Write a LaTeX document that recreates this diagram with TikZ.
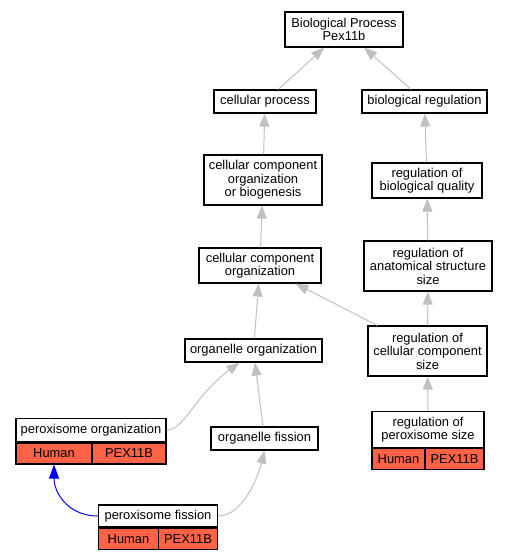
\documentclass[tikz,border=0pt]{standalone}
\usepackage{fontspec}
\setmainfont{Liberation Sans}
\usepackage{xcolor}
\usetikzlibrary{arrows.meta}
\definecolor{edgegray}{RGB}{192,192,192}
\definecolor{tomato}{RGB}{255,99,71}

\begin{document}
\begin{tikzpicture}[x=1pt, y=-1pt,
    term/.style={draw, line width=1.2pt, fill=white, inner sep=0pt, align=center,
      font=\fontsize{12.9}{13.4}\selectfont},
    gene/.style={term, fill=tomato, minimum height=21},
    edge/.style={draw=edgegray, line width=1pt,
      -{Triangle[length=13pt, width=10pt, fill=edgegray]}},
    blueedge/.style={draw=blue, line width=1pt,
      -{Triangle[length=14pt, width=10pt, fill=blue]}}]
    \useasboundingbox (0,0) rectangle (508,560);

    \node[term, minimum width=118, minimum height=35] (bp) at (344, 29.5)
      {Biological Process\\Pex11b};
    \node[term, minimum width=102, minimum height=23] (cp) at (265, 101.5)
      {cellular process};
    \node[term, minimum width=125, minimum height=23] (br) at (424.5, 101.5)
      {biological regulation};
    \node[term, minimum width=118, minimum height=50] (ccob) at (263, 180)
      {cellular component\\organization\\or biogenesis};
    \node[term, minimum width=110, minimum height=35] (rbq) at (427, 180.5)
      {regulation of\\biological quality};
    \node[term, minimum width=122, minimum height=35] (cco) at (260, 265.5)
      {cellular component\\organization};
    \node[term, minimum width=128, minimum height=50] (ras) at (428, 266)
      {regulation of\\anatomical structure\\size};
    \node[term, minimum width=137, minimum height=23] (oo) at (253.5, 350.5)
      {organelle organization};
    \node[term, minimum width=119, minimum height=50] (rccs) at (427.5, 351)
      {regulation of\\cellular component\\size};
    \node[term, minimum width=107, minimum height=23] (of) at (264.5, 438.5)
      {organelle fission};

    \node[term, minimum width=150, minimum height=23.4] (po) at (91, 430)
      {peroxisome organization};
    \node[gene, anchor=north west, minimum width=76] (poh) at (po.south west)
      {Human};
    \node[gene, anchor=north east, minimum width=74] (pog) at (po.south east)
      {PEX11B};

    \node[term, minimum width=112, minimum height=35.6] (rps) at (428, 429.5)
      {regulation of\\peroxisome size};
    \node[gene, anchor=north west, minimum width=53] (rpsh) at (rps.south west)
      {Human};
    \node[gene, anchor=north east, minimum width=59] (rpsg) at (rps.south east)
      {PEX11B};

    \node[term, minimum width=119, minimum height=22] (pf) at (158, 516)
      {peroxisome fission};
    \node[gene, anchor=north west, minimum width=60] (pfh) at (pf.south west)
      {Human};
    \node[gene, anchor=north east, minimum width=59] (pfg) at (pf.south east)
      {PEX11B};

    \draw[edge] (cp) -- (bp);
    \draw[edge] (br) -- (bp);
    \draw[edge] (ccob) -- (cp);
    \draw[edge] (rbq) -- (br);
    \draw[edge] (cco) -- (ccob);
    \draw[edge] (ras) -- (rbq);
    \draw[edge] (oo) -- (cco);
    \draw[edge] (rccs) -- (cco);
    \draw[edge] (rccs) -- (ras);
    \draw[edge] (of) -- (oo);
    \draw[edge] (rps) -- (rccs);
    \draw[edge] (po.east) .. controls +(18, 0) and +(-45, 33) ..
      ([xshift=-14pt]oo.south);
    \draw[edge] (pf.east) .. controls +(25, 0) and +(-6, 25) .. (of.south);
    \draw[blueedge] (pf.west) .. controls +(-30, 0) and +(0, 28) .. (poh.south);
  \end{tikzpicture}
\end{document}
